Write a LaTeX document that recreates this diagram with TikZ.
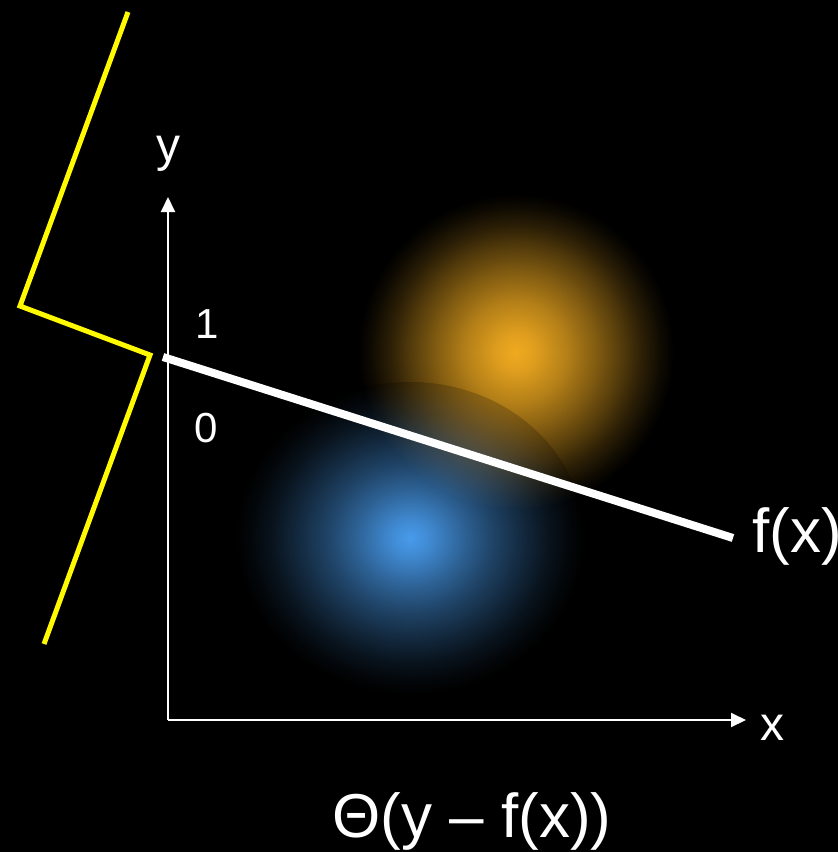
\documentclass[tikz,border=0pt]{standalone}
\usepackage{fontspec}
\setmainfont{Liberation Sans}
\usetikzlibrary{arrows.meta}
\definecolor{oglow}{RGB}{240,170,32}
\definecolor{bglow}{RGB}{72,155,236}
\definecolor{ylw}{RGB}{255,250,0}
\pgfdeclareradialshading{orangeglow}{\pgfpoint{0bp}{0bp}}{color(0bp)=(oglow); color(3bp)=(oglow!93!black); color(8bp)=(oglow!75!black); color(12bp)=(oglow!57!black); color(16bp)=(oglow!38!black); color(20bp)=(oglow!18!black); color(23bp)=(oglow!6!black); color(25bp)=(black); color(50bp)=(black)}
\pgfdeclareradialshading{blueglow}{\pgfpoint{0bp}{0bp}}{color(0bp)=(bglow); color(3bp)=(bglow!88!black); color(8bp)=(bglow!62!black); color(12bp)=(bglow!43!black); color(16bp)=(bglow!27!black); color(20bp)=(bglow!12!black); color(23bp)=(bglow!4!black); color(25bp)=(black); color(50bp)=(black)}
\tikzset{
  axis/.style={white, line width=2pt, -{Triangle[length=15pt,width=14pt]}},
  lbl/.style={text=white, inner sep=0pt, font=\fontsize{48}{52}\selectfont},
  dig/.style={text=white, inner sep=0pt, font=\fontsize{42}{46}\selectfont},
  big/.style={text=white, inner sep=0pt, font=\fontsize{62}{66}\selectfont},
}
\begin{document}
\begin{tikzpicture}[x=1pt,y=-1pt]
\fill[black] (0,0) rectangle (838,852);
\useasboundingbox (0,0) rectangle (838,852);
% glows
\shade[shading=orangeglow] (516,352) circle[radius=158];
\fill[black, fill opacity=0.2] (410,538) ellipse[x radius=174, y radius=156];
\begin{scope}[blend mode=screen]
\shade[shading=blueglow] (410,538) ellipse[x radius=174, y radius=156];
\end{scope}
% yellow polyline
\coordinate (p1) at (128,12);
\coordinate (p2) at (20,306);
\coordinate (p3) at (150,355);
\coordinate (p4) at (44,644);
\draw[ylw, line width=5pt, line join=miter] (p1) -- (p2) -- (p3) -- (p4);
% axes
\coordinate (O) at (168,720);
\coordinate (ytip) at (168,197);
\coordinate (xtip) at (746,720);
\draw[axis] (O) -- (ytip);
\draw[axis] (O) -- (xtip);
% f(x) line
\coordinate (fa) at (163,357);
\coordinate (fb) at (733,538);
\draw[white, line width=8pt] (fa) -- (fb);
% labels
\node[lbl, anchor=base] (ylab) at (168,161) {y};
\node[lbl, anchor=base] (xlab) at (772,740) {x};
\node[dig, anchor=base] (one) at (207,338) {1};
\node[dig, anchor=base] (zero) at (206,442) {0};
\node[big, anchor=base west] (fx) at (752,552) {f(x)};
\node[big, anchor=base] (theta) at (472,837) {Θ(y – f(x))};
\end{tikzpicture}
\end{document}
